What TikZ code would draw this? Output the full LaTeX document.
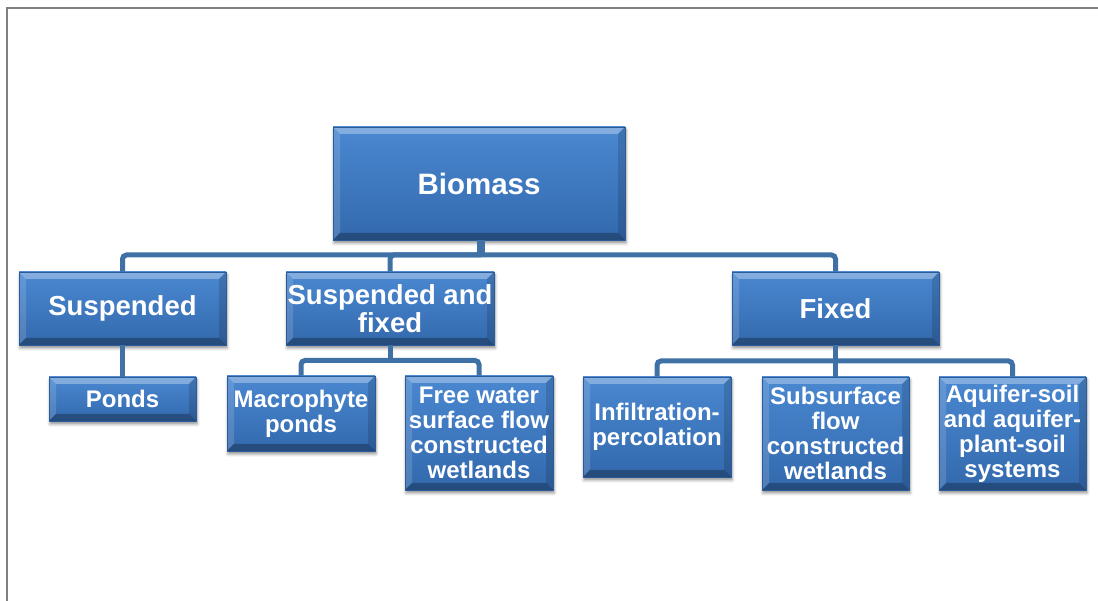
\documentclass[tikz,border=0pt]{standalone}
\usepackage{fontspec}
\setmainfont{Liberation Sans}
\usetikzlibrary{shadows.blur,calc}
\definecolor{framegray}{HTML}{808080}
\definecolor{conncol}{HTML}{3F70A6}
\definecolor{boxtop}{HTML}{4A88D1}
\definecolor{boxbot}{HTML}{3369AD}
\definecolor{boxedge}{HTML}{2B5C97}
\begin{document}
\begin{tikzpicture}[x=1pt,y=1pt,
  bx/.style={draw=boxedge, line width=0.6pt, top color=boxtop, bottom color=boxbot,
    text=white, align=center, inner sep=0pt,
    blur shadow={shadow xshift=1pt, shadow yshift=-3pt, shadow blur radius=3pt, shadow opacity=45},
    path picture={
      \fill[white,opacity=.32] (path picture bounding box.north west) -- (path picture bounding box.north east)
        -- ([xshift=-7pt,yshift=-7pt]path picture bounding box.north east) -- ([xshift=7pt,yshift=-7pt]path picture bounding box.north west) -- cycle;
      \fill[white,opacity=.14] (path picture bounding box.north west) -- ([xshift=7pt,yshift=-7pt]path picture bounding box.north west)
        -- ([xshift=7pt,yshift=7pt]path picture bounding box.south west) -- (path picture bounding box.south west) -- cycle;
      \fill[black,opacity=.14] (path picture bounding box.north east) -- ([xshift=-7pt,yshift=-7pt]path picture bounding box.north east)
        -- ([xshift=-7pt,yshift=7pt]path picture bounding box.south east) -- (path picture bounding box.south east) -- cycle;
      \fill[black,opacity=.28] (path picture bounding box.south west) -- (path picture bounding box.south east)
        -- ([xshift=-7pt,yshift=7pt]path picture bounding box.south east) -- ([xshift=7pt,yshift=7pt]path picture bounding box.south west) -- cycle;
    }},
  lvlone/.style={bx, font=\fontsize{29.5}{32}\selectfont\bfseries},
  lvltwo/.style={bx, font=\fontsize{27.5}{28}\selectfont\bfseries},
  lvlthree/.style={bx, font=\fontsize{24}{25}\selectfont\bfseries},
  link/.style={draw=conncol, line width=5pt, rounded corners=4pt}]
\useasboundingbox (0,0) rectangle (1098,601);
\draw[framegray, line width=2pt] (6.8,0) -- (6.8,593.2) -- (1098,593.2);

\node[lvlone, minimum width=292pt, minimum height=113pt] (biomass) at (479,417.5) {Biomass};

\node[lvltwo, minimum width=207pt, minimum height=73pt] (susp) at (122.5,292.5) {Suspended};
\node[lvltwo, minimum width=208pt, minimum height=73pt] (suspfix) at (390,292.5) {Suspended and\\fixed};
\node[lvltwo, minimum width=207pt, minimum height=73pt] (fixed) at (835.5,292.5) {Fixed};

\node[lvlthree, minimum width=147pt, minimum height=44pt] (ponds) at (122.5,202) {Ponds};
\node[lvlthree, minimum width=148pt, minimum height=75pt] (macro) at (301,187.5) {Macrophyte\\ponds};
\node[lvlthree, minimum width=148pt, minimum height=114pt] (freew) at (479,168) {Free water\\surface flow\\constructed\\wetlands};
\node[lvlthree, minimum width=148pt, minimum height=100pt] (infil) at (657,174) {Infiltration-\\percolation};
\node[lvlthree, minimum width=147pt, minimum height=113pt] (subs) at (835.5,167.5) {Subsurface\\flow\\constructed\\wetlands};
\node[lvlthree, minimum width=147pt, minimum height=113pt] (aqui) at (1012.5,167.5) {Aquifer-soil\\and aquifer-\\plant-soil\\systems};

\coordinate (ja) at (481,346);
\draw[draw=conncol, line width=8pt] (biomass.south -| ja) -- (ja);
\draw[link] (ja) -| (susp.north);
\draw[link] (ja) -| (suspfix.north);
\draw[link] (ja) -| (fixed.north);

\draw[link] (susp.south) -- (ponds.north);

\coordinate (jb) at (390,240.5);
\draw[link] (suspfix.south) -- (jb);
\draw[link] (jb) -| (macro.north);
\draw[link] (jb) -| (freew.north);

\coordinate (jc) at (835.5,240);
\draw[link] (fixed.south) -- (jc);
\draw[link] (jc) -| (infil.north);
\draw[link] (jc) -- (subs.north);
\draw[link] (jc) -| (aqui.north);
\end{tikzpicture}
\end{document}
